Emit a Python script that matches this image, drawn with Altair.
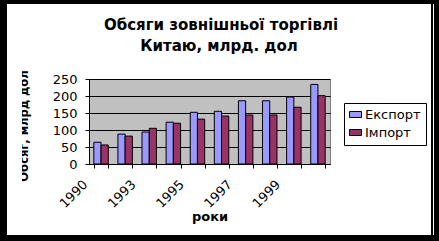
import altair as alt
import pandas as pd

# ---- data ----
years = ["1990", "1992", "1993", "1994", "1995", "1996", "1997", "1998", "1999", "2000"]
shown_years = ["1990", "1993", "1995", "1997", "1999"]
export_vals = [64, 88, 94, 123, 152, 155, 186, 186, 197, 234]
import_vals = [56, 82, 105, 120, 132, 141, 144, 144, 167, 201]
series = ["Експорт", "Імпорт"]
colors = ["#9999FF", "#993366"]
title_lines = ["Обсяги зовнішньої торгівлі", "Китаю, млрд. дол"]
x_title = "роки"
y_title = "Обсяг, млрд дол"
y_ticks = [0, 50, 100, 150, 200, 250]

rows = []
for i, y in enumerate(years):
    rows.append({"year": y, "series": series[0], "value": export_vals[i]})
    rows.append({"year": y, "series": series[1], "value": import_vals[i]})
df = pd.DataFrame(rows)

FONT = "DejaVu Sans"
W, H = 241, 85
PL, PT = 89, 79

label_arr = "[" + ",".join("'" + s + "'" for s in shown_years) + "]"

bars = alt.Chart(df).mark_bar(stroke="black", strokeWidth=1).encode(
    x=alt.X("year:N", sort=years,
            scale=alt.Scale(paddingInner=0.4, paddingOuter=0.2),
            axis=alt.Axis(title=None, tickBand="extent", labelAngle=315,
                          labelAlign="right", labelBaseline="middle",
                          labelExpr=f"indexof({label_arr}, datum.label) >= 0 ? datum.label : ''",
                          labelOffset=-16, labelPadding=14, tickSize=4,
                          labelFont=FONT, labelFontSize=13, labelColor="black",
                          domainColor="black", tickColor="black", grid=False)),
    xOffset=alt.XOffset("series:N", sort=series,
                        scale=alt.Scale(paddingInner=0, paddingOuter=0)),
    y=alt.Y("value:Q", scale=alt.Scale(domain=[0, 250], nice=False),
            axis=alt.Axis(title=None, values=y_ticks, grid=True, gridColor="black",
                          gridWidth=1, tickSize=4, labelPadding=8,
                          labelFont=FONT, labelFontSize=13, labelColor="black",
                          domainColor="black", tickColor="black")),
    fill=alt.Fill("series:N", sort=series,
                  scale=alt.Scale(domain=series, range=colors),
                  legend=alt.Legend(title=None, orient="none", legendX=255, legendY=24,
                                    fillColor="white", strokeColor="black", padding=5,
                                    labelFont=FONT, labelFontSize=13, labelColor="black",
                                    symbolType="M-1,-0.5H1V0.5H-1Z", symbolSize=144,
                                    symbolStrokeColor="black", symbolStrokeWidth=1,
                                    rowPadding=4, labelOffset=3)),
)

one = pd.DataFrame({"t": [""]})

def text_layer(txt, x, y, size, bold=True, angle=0):
    d = pd.DataFrame({"t": [txt]})
    kw = dict(font=FONT, fontSize=size, fontWeight="bold" if bold else "normal",
              color="black", align="center", baseline="alphabetic")
    if angle:
        kw["angle"] = angle
    return alt.Chart(d).mark_text(**kw).encode(
        x=alt.value(x), y=alt.value(y), text=alt.Text("t:N"))

def rect(x1, x2, y1, y2, col):
    return alt.Chart(one).mark_rect(color=col).encode(
        x=alt.value(x1 - PL), x2=alt.value(x2 - PL),
        y=alt.value(y1 - PT), y2=alt.value(y2 - PT))

t1 = text_layer(title_lines[0], 221 - PL, 30 - PT, 15)
t2 = text_layer(title_lines[1], 219 - PL, 51 - PT, 15)
xt = text_layer(x_title, 210 - PL, 221 - PT, 13)
yt = text_layer(y_title, 28 - PL, 126 - PT, 11.5, angle=270)

clip = rect(7, 22, 60, 200, "white")
borders = [
    rect(0, 7, 0, 241, "black"),
    rect(0, 439, 0, 4, "black"),
    rect(0, 439, 235, 241, "black"),
    rect(431, 433, 0, 241, "black"),
    rect(434, 439, 0, 241, "black"),
]

chart = alt.layer(bars, t1, t2, xt, yt, clip, *borders).properties(
    width=W, height=H,
    background="white",
    autosize=alt.AutoSizeParams(type="none"),
    padding={"left": PL, "top": PT, "right": 439 - PL - W, "bottom": 241 - PT - H},
).configure_view(fill="#C0C0C0", stroke="#808080", strokeWidth=1)

chart.save("out.html", embed_options={"renderer": "svg", "actions": False})
